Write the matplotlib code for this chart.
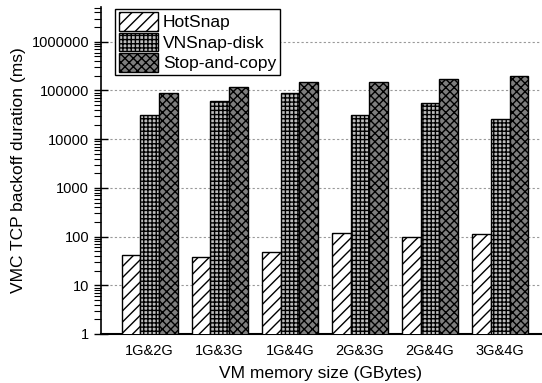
import numpy as np
import matplotlib.pyplot as plt
from matplotlib.ticker import LogLocator, FixedLocator, NullFormatter

plt.rcParams['font.family'] = ['Liberation Sans', 'DejaVu Sans']
plt.rcParams['hatch.linewidth'] = 1.0

# Data
groups = ["1G&2G", "1G&3G", "1G&4G", "2G&3G", "2G&4G", "3G&4G"]
hotsnap = [41, 38, 49, 120, 96, 114]
vnsnap_disk = [31000, 62000, 88000, 31000, 56000, 26000]
stop_and_copy = [89000, 120000, 149000, 149000, 175000, 200000]
yticks = [1, 10, 100, 1000, 10000, 100000, 1000000]

fig = plt.figure(figsize=(5.42, 3.83), dpi=100)
ax = fig.add_axes([0.186, 0.128, 0.812, 0.854])

x = np.arange(len(groups))
w = 0.267
ax.bar(x - w, hotsnap, w, color='white', edgecolor='black', hatch='///',
       lw=1, label='HotSnap', zorder=3)
ax.bar(x, vnsnap_disk, w, color='#bcbcbc', edgecolor='black', hatch='++++',
       lw=1, label='VNSnap-disk', zorder=3)
ax.bar(x + w, stop_and_copy, w, color='#7e7e7e', edgecolor='black', hatch='xxxx',
       lw=1, label='Stop-and-copy', zorder=3)

ax.set_yscale('log')
ax.set_ylim(1, 5.2e6)
ax.set_xlim(-0.696, 5.58)
ax.yaxis.set_major_locator(FixedLocator(yticks))
ax.set_yticklabels([str(v) for v in yticks])
ax.yaxis.set_minor_locator(LogLocator(base=10, subs=np.arange(2, 10)))
ax.yaxis.set_minor_formatter(NullFormatter())
ax.tick_params(axis='y', which='major', direction='inout', length=10, width=1, labelsize=10.5)
ax.tick_params(axis='y', which='minor', direction='out', length=5, width=0.8)
ax.set_xticks(x)
ax.set_xticklabels(groups)
ax.tick_params(axis='x', length=0, labelsize=10.5, pad=7)

ax.grid(axis='y', which='major', color='#999999', linestyle=(0, (2, 2)), lw=0.8, zorder=0)
for s in ['top', 'right']:
    ax.spines[s].set_visible(False)
ax.spines['left'].set_linewidth(1.2)
ax.spines['bottom'].set_linewidth(1.5)

ax.set_xlabel('VM memory size (GBytes)', fontsize=12.5, labelpad=6)
ax.set_ylabel('VMC TCP backoff duration (ms)', fontsize=12.5, labelpad=4)

leg = ax.legend(loc='upper left', bbox_to_anchor=(0.0325, 0.994), borderaxespad=0,
                fontsize=12.5, handlelength=2.25, handleheight=1.25, labelspacing=0.12,
                handletextpad=0.3, borderpad=0.2, fancybox=False, framealpha=1)
leg.get_frame().set_edgecolor('black')
leg.get_frame().set_linewidth(1)

fig.savefig('out.png', dpi=100)
